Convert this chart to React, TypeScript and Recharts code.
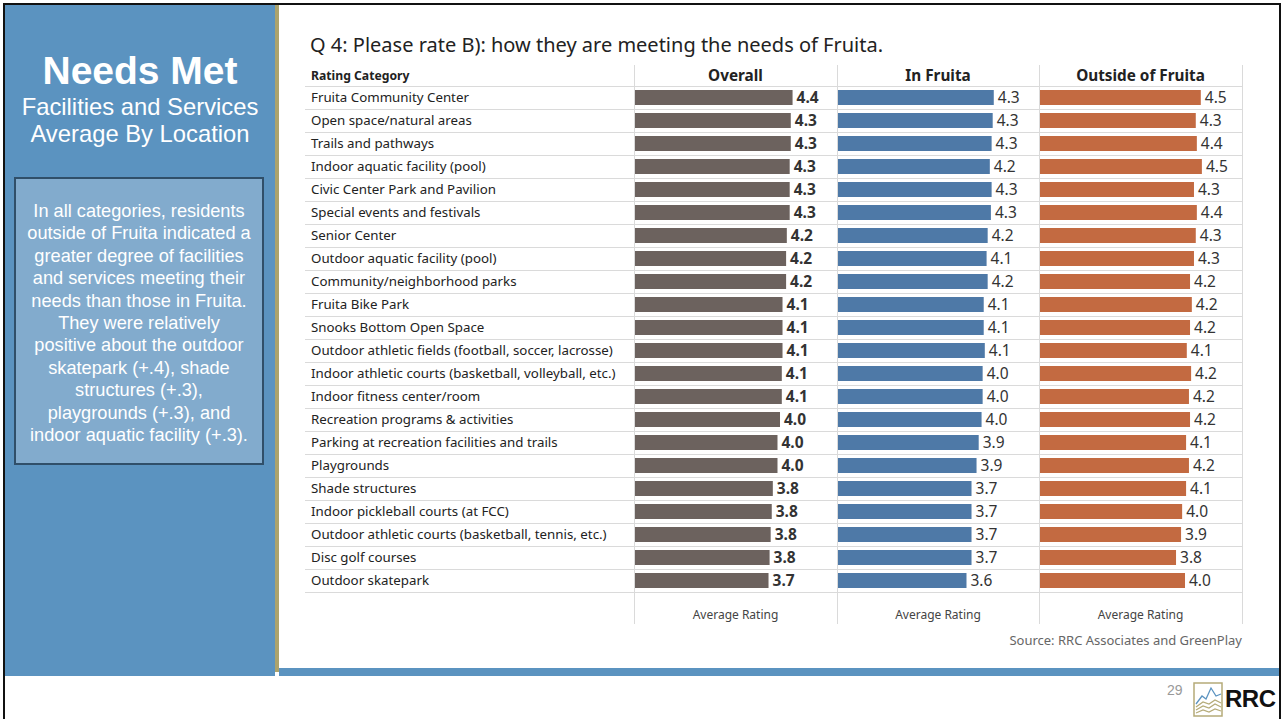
import { BarChart, Bar, XAxis, YAxis, LabelList } from 'recharts';

const categories = [
  'Fruita Community Center',
  'Open space/natural areas',
  'Trails and pathways',
  'Indoor aquatic facility (pool)',
  'Civic Center Park and Pavilion',
  'Special events and festivals',
  'Senior Center',
  'Outdoor aquatic facility (pool)',
  'Community/neighborhood parks',
  'Fruita Bike Park',
  'Snooks Bottom Open Space',
  'Outdoor athletic fields (football, soccer, lacrosse)',
  'Indoor athletic courts (basketball, volleyball, etc.)',
  'Indoor fitness center/room',
  'Recreation programs & activities',
  'Parking at recreation facilities and trails',
  'Playgrounds',
  'Shade structures',
  'Indoor pickleball courts (at FCC)',
  'Outdoor athletic courts (basketball, tennis, etc.)',
  'Disc golf courses',
  'Outdoor skatepark',
];

const overall = [4.39, 4.34, 4.34, 4.31, 4.31, 4.31, 4.23, 4.21, 4.21, 4.11, 4.11, 4.11, 4.09, 4.09, 4.04, 3.97, 3.97, 3.84, 3.81, 3.78, 3.75, 3.72];
const inFruita = [4.34, 4.31, 4.28, 4.23, 4.28, 4.26, 4.17, 4.14, 4.17, 4.06, 4.06, 4.09, 4.03, 4.03, 4.0, 3.92, 3.86, 3.72, 3.72, 3.72, 3.72, 3.58];
const outside = [4.48, 4.34, 4.37, 4.51, 4.29, 4.37, 4.34, 4.29, 4.18, 4.23, 4.18, 4.09, 4.21, 4.15, 4.18, 4.07, 4.15, 4.07, 3.96, 3.93, 3.79, 4.04];

const columns = ['Overall', 'In Fruita', 'Outside of Fruita'];

const summaryLines = [
  'In all categories, residents',
  'outside of Fruita indicated a',
  'greater degree of facilities',
  'and services meeting their',
  'needs than those in Fruita.',
  'They were relatively',
  'positive about the outdoor',
  'skatepark (+.4), shade',
  'structures (+.3),',
  'playgrounds (+.3), and',
  'indoor aquatic facility (+.3).',
];

const data = categories.map((name, i) => ({
  name,
  overall: overall[i],
  inFruita: inFruita[i],
  outside: outside[i],
}));

const FONT = '"Noto Sans", sans-serif';
const ARIAL = '"Liberation Sans", Arial, sans-serif';
const ROW_H = 23;
const TABLE_TOP = 86;
const CHART_H = categories.length * ROW_H;
const DOMAIN: [number, number] = [0, 5.6];

const fmt = (v: any) => Number(v).toFixed(1);

const CategoryTick = (props: any) => {
  const { y, payload } = props;
  return (
    <text x={6} y={y} dy={4.5} fontSize={13.3} fill="#222" fontFamily={FONT} textAnchor="start">
      {payload.value}
    </text>
  );
};

const App = () => {
  const panelLines = [634, 837, 1039, 1242];
  const rowLines = Array.from({ length: categories.length + 1 }, (_, k) => TABLE_TOP + k * ROW_H);

  return (
    <div style={{ position: 'absolute', left: 0, top: 0, width: 1283, height: 719, background: '#fff', overflow: 'hidden' }}>
      {/* frame */}
      <div style={{ position: 'absolute', left: 3, top: 3, width: 1278, height: 2, background: '#111' }} />
      <div style={{ position: 'absolute', left: 3, top: 3, width: 2, height: 716, background: '#111' }} />
      <div style={{ position: 'absolute', left: 1279, top: 3, width: 2, height: 716, background: '#111' }} />

      {/* left panel */}
      <div style={{ position: 'absolute', left: 5, top: 5, width: 270, height: 671, background: '#5b93c0' }} />
      <div style={{ position: 'absolute', left: 275, top: 5, width: 4, height: 667, background: '#aca36c' }} />
      <div style={{ position: 'absolute', left: 279, top: 668, width: 1000, height: 8, background: '#5b93c0' }} />

      <div style={{ position: 'absolute', left: 5, top: 49, width: 270, textAlign: 'center', color: '#fff', fontFamily: ARIAL }}>
        <div style={{ fontSize: 39, fontWeight: 'bold', lineHeight: '44px' }}>Needs Met</div>
        <div style={{ fontSize: 23.8, lineHeight: '27px', marginTop: 0 }}>Facilities and Services</div>
        <div style={{ fontSize: 23.8, lineHeight: '27px' }}>Average By Location</div>
      </div>

      <div style={{ position: 'absolute', left: 14, top: 177, width: 246, height: 284, background: '#82abcd', border: '2px solid #304f69' }}>
        <div style={{ paddingTop: 21, marginLeft: -10, marginRight: -10, textAlign: 'center', color: '#fff', fontFamily: ARIAL, fontSize: 18.2, lineHeight: '22.4px', whiteSpace: 'nowrap' }}>
          {summaryLines.map((l, i) => (
            <div key={i}>{l}</div>
          ))}
        </div>
      </div>

      {/* chart title */}
      <div style={{ position: 'absolute', left: 310, top: 31, fontFamily: FONT, fontSize: 20, color: '#222', whiteSpace: 'nowrap' }}>
        Q 4: Please rate B): how they are meeting the needs of Fruita.
      </div>

      {/* table lines */}
      <svg style={{ position: 'absolute', left: 0, top: 0 }} width={1283} height={719}>
        {rowLines.map((y) => (
          <line key={y} x1={305} x2={1242} y1={y + 0.5} y2={y + 0.5} stroke="#dadada" strokeWidth={1} />
        ))}
        {panelLines.map((x) => (
          <line key={x} x1={x + 0.5} x2={x + 0.5} y1={65} y2={624} stroke="#dadada" strokeWidth={1} />
        ))}
      </svg>

      {/* headers */}
      <div style={{ position: 'absolute', left: 311, top: 67, fontFamily: FONT, fontSize: 12.2, fontWeight: 'bold', color: '#222' }}>Rating Category</div>
      {columns.map((c, i) => (
        <div key={c} style={{ position: 'absolute', left: panelLines[i], width: panelLines[i + 1] - panelLines[i], top: 65, textAlign: 'center', fontFamily: FONT, fontSize: 15.3, fontWeight: 'bold', color: '#222' }}>
          {c}
        </div>
      ))}
      {columns.map((c, i) => (
        <div key={c + 'ax'} style={{ position: 'absolute', left: panelLines[i], width: panelLines[i + 1] - panelLines[i], top: 606, textAlign: 'center', fontFamily: FONT, fontSize: 12, color: '#444' }}>
          Average Rating
        </div>
      ))}

      {/* charts */}
      <div style={{ position: 'absolute', left: 305, top: TABLE_TOP }}>
        <BarChart width={531} height={CHART_H} data={data} layout="vertical" margin={{ top: 0, right: 0, bottom: 0, left: 0 }}>
          <XAxis type="number" domain={DOMAIN} hide allowDataOverflow />
          <YAxis type="category" dataKey="name" width={330} axisLine={false} tickLine={false} tick={<CategoryTick />} interval={0} />
          <Bar dataKey="overall" fill="#6c625e" barSize={15} isAnimationActive={false}>
            <LabelList dataKey="overall" position="right" offset={4} formatter={fmt} fontSize={15.5} fontWeight="bold" fill="#333" fontFamily={FONT} />
          </Bar>
        </BarChart>
      </div>
      <div style={{ position: 'absolute', left: 838, top: TABLE_TOP }}>
        <BarChart width={201} height={CHART_H} data={data} layout="vertical" margin={{ top: 0, right: 0, bottom: 0, left: 0 }}>
          <XAxis type="number" domain={DOMAIN} hide allowDataOverflow />
          <YAxis type="category" dataKey="name" hide />
          <Bar dataKey="inFruita" fill="#4e79a7" barSize={15} isAnimationActive={false}>
            <LabelList dataKey="inFruita" position="right" offset={4} formatter={fmt} fontSize={15.5} fill="#333" fontFamily={FONT} />
          </Bar>
        </BarChart>
      </div>
      <div style={{ position: 'absolute', left: 1040, top: TABLE_TOP }}>
        <BarChart width={201} height={CHART_H} data={data} layout="vertical" margin={{ top: 0, right: 0, bottom: 0, left: 0 }}>
          <XAxis type="number" domain={DOMAIN} hide allowDataOverflow />
          <YAxis type="category" dataKey="name" hide />
          <Bar dataKey="outside" fill="#c36a41" barSize={15} isAnimationActive={false}>
            <LabelList dataKey="outside" position="right" offset={4} formatter={fmt} fontSize={15.5} fill="#333" fontFamily={FONT} />
          </Bar>
        </BarChart>
      </div>

      <div style={{ position: 'absolute', right: 1283 - 1242, top: 631, fontFamily: FONT, fontSize: 13, color: '#666', whiteSpace: 'nowrap' }}>
        Source: RRC Associates and GreenPlay
      </div>

      {/* footer */}
      <div style={{ position: 'absolute', left: 1167, top: 682, fontFamily: ARIAL, fontSize: 14, color: '#999' }}>29</div>
      <svg style={{ position: 'absolute', left: 1193, top: 682 }} width={32} height={36}>
        <rect x={1} y={1} width={28} height={33} fill="none" stroke="#b5ab78" strokeWidth={1.5} />
        <polyline points="3,22 9,14 13,17 18,6 23,14 28,12" fill="none" stroke="#5b93c0" strokeWidth={1.3} />
        <polyline points="3,25 10,20 16,22 22,18 28,21" fill="none" stroke="#b5ab78" strokeWidth={1.2} />
        <polyline points="3,28 10,24 16,26 22,22 28,25" fill="none" stroke="#b5ab78" strokeWidth={1.2} />
        <polyline points="3,31 10,28 16,30 22,27 28,29" fill="none" stroke="#b5ab78" strokeWidth={1.2} />
      </svg>
      <div style={{ position: 'absolute', left: 1225, top: 685, fontFamily: ARIAL, fontSize: 24, fontWeight: 'bold', color: '#111', letterSpacing: -0.5 }}>RRC</div>
    </div>
  );
};

export default App;
